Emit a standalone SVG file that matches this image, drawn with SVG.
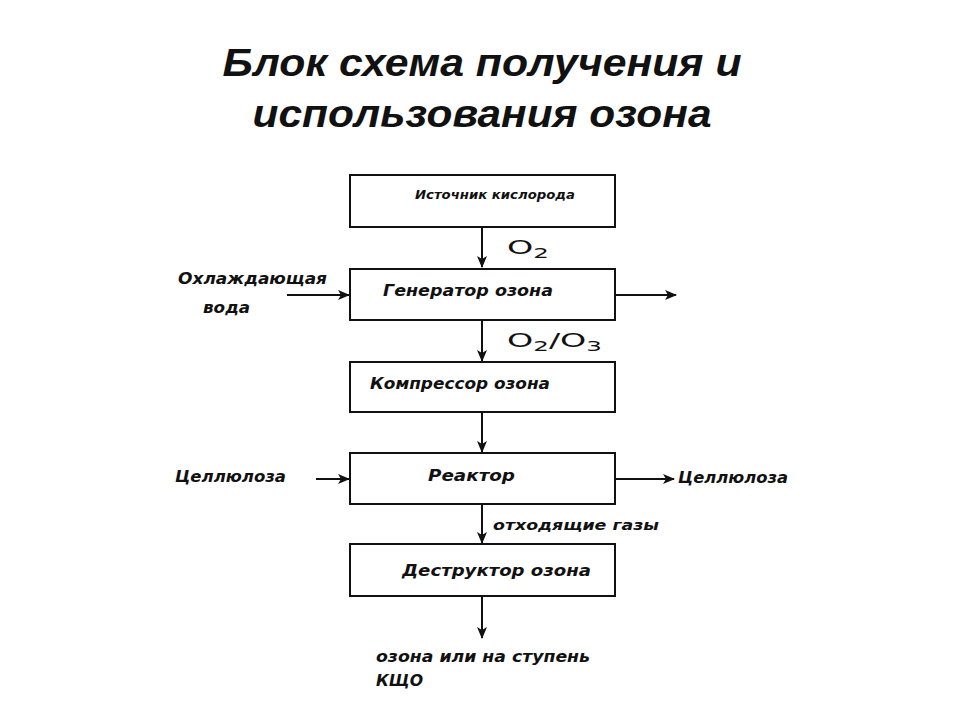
<svg xmlns="http://www.w3.org/2000/svg" width="960" height="720" viewBox="0 0 960 720">
<style>
.box{fill:#fff;stroke:#111;stroke-width:2}
.t{font-family:"DejaVu Sans","Liberation Sans",sans-serif;font-weight:bold;font-style:italic;fill:#111}
.title{font-family:"Liberation Sans",Arial,sans-serif;font-weight:bold;font-style:italic;font-size:39px;fill:#111;text-anchor:middle}
.f{font-family:"DejaVu Sans","Liberation Sans",sans-serif;fill:#111}
.c{stroke:#111;stroke-width:2;fill:none;marker-end:url(#ah)}
</style>
<defs>
<marker id="ah" markerWidth="12" markerHeight="12" refX="11" refY="6" orient="auto" markerUnits="userSpaceOnUse">
<path d="M0,1 L12,6 L0,11 L3,6 Z" fill="#111"/>
</marker>
</defs>
<rect width="960" height="720" fill="#fff"/>
<g id="title">
<text class="title" x="482" y="76" textLength="519" lengthAdjust="spacingAndGlyphs">Блок схема получения и</text>
<text class="title" x="482" y="127" textLength="459" lengthAdjust="spacingAndGlyphs">использования озона</text>
</g>
<g id="connectors">
<line class="c" x1="482" y1="227" x2="482" y2="267"/>
<line class="c" x1="482" y1="320" x2="482" y2="361"/>
<line class="c" x1="482" y1="412" x2="482" y2="452"/>
<line class="c" x1="482" y1="504" x2="482" y2="543"/>
<line class="c" x1="482" y1="596" x2="482" y2="638"/>
<line class="c" x1="287" y1="295" x2="349" y2="295"/>
<line class="c" x1="615" y1="295" x2="676" y2="295"/>
<line class="c" x1="316" y1="479" x2="349" y2="479"/>
<line class="c" x1="615" y1="479" x2="674" y2="479"/>
</g>
<g id="n1">
<rect class="box" x="350" y="175" width="265" height="52"/>
<text class="t" x="415" y="199" font-size="12" textLength="160" lengthAdjust="spacingAndGlyphs">Источник кислорода</text>
</g>
<g id="n2">
<rect class="box" x="350" y="269" width="265" height="51"/>
<text class="t" x="383" y="296" font-size="15" textLength="170" lengthAdjust="spacingAndGlyphs">Генератор озона</text>
</g>
<g id="n3">
<rect class="box" x="350" y="362" width="265" height="50"/>
<text class="t" x="370" y="389" font-size="15" textLength="180" lengthAdjust="spacingAndGlyphs">Компрессор озона</text>
</g>
<g id="n4">
<rect class="box" x="350" y="453" width="265" height="51"/>
<text class="t" x="428" y="481" font-size="15" textLength="87" lengthAdjust="spacingAndGlyphs">Реактор</text>
</g>
<g id="n5">
<rect class="box" x="350" y="544" width="265" height="52"/>
<text class="t" x="402" y="576" font-size="15" textLength="189" lengthAdjust="spacingAndGlyphs">Деструктор озона</text>
</g>
<g id="labels">
<text class="f" x="507" y="254" font-size="19" textLength="42" lengthAdjust="spacingAndGlyphs">O<tspan font-size="14" dy="4">2</tspan></text>
<text class="f" x="507" y="347" font-size="19" textLength="95" lengthAdjust="spacingAndGlyphs">O<tspan font-size="14" dy="4">2</tspan><tspan dy="-4">/O</tspan><tspan font-size="14" dy="4">3</tspan></text>
<text class="t" x="178" y="284" font-size="15" textLength="149" lengthAdjust="spacingAndGlyphs">Охлаждающая</text>
<text class="t" x="203" y="313" font-size="15" textLength="47" lengthAdjust="spacingAndGlyphs">вода</text>
<text class="t" x="175" y="482" font-size="15" textLength="111" lengthAdjust="spacingAndGlyphs">Целлюлоза</text>
<text class="t" x="678" y="483" font-size="15" textLength="110" lengthAdjust="spacingAndGlyphs">Целлюлоза</text>
<text class="t" x="493" y="530" font-size="14" textLength="166" lengthAdjust="spacingAndGlyphs">отходящие газы</text>
<text class="t" x="376" y="662" font-size="15" textLength="214" lengthAdjust="spacingAndGlyphs">озона или на ступень</text>
<text class="t" x="376" y="686" font-size="15" textLength="47" lengthAdjust="spacingAndGlyphs">КЩО</text>
</g>
</svg>
